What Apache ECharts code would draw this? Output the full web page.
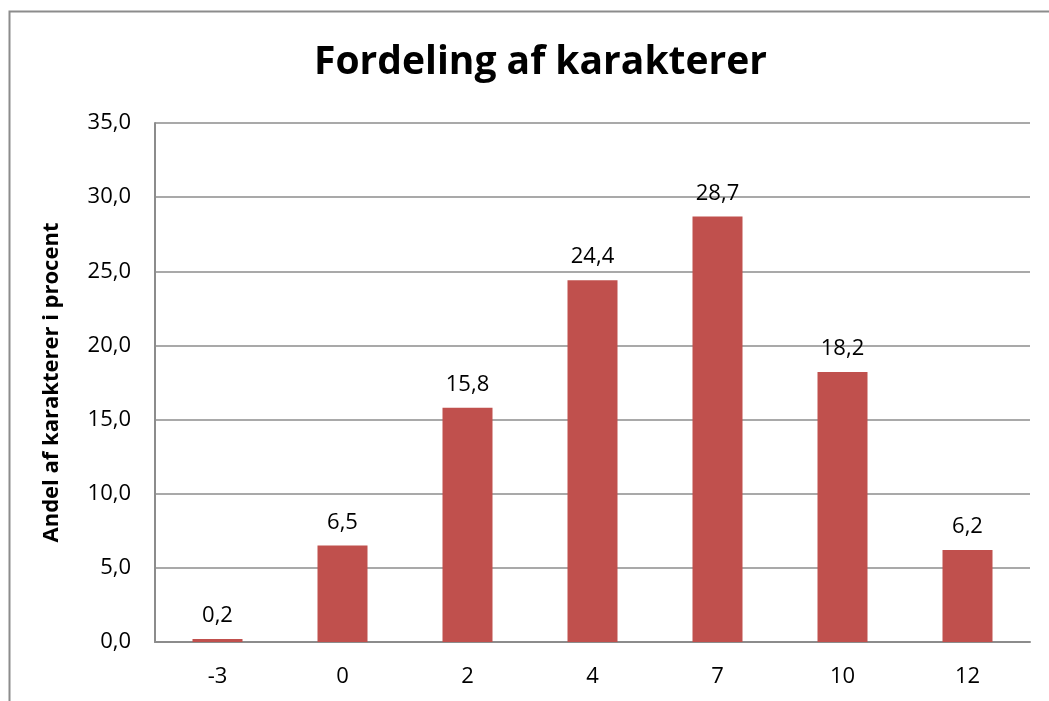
<!DOCTYPE html>
<html>
<head>
<meta charset="utf-8">
<script src="https://cdn.jsdelivr.net/npm/echarts@6/dist/echarts.min.js"></script>
<style>
  html, body { margin: 0; padding: 0; background: #fff; }
  #main { width: 1049px; height: 701px; }
</style>
</head>
<body>
<div id="main"></div>
<script>
// karakterer og andel i procent
const grades = ['-3', '0', '2', '4', '7', '10', '12']
const shares = [0.2, 6.5, 15.8, 24.4, 28.7, 18.2, 6.2]

const font = 'Open Sans, Noto Sans, sans-serif'
const fmt = v => v.toFixed(1).replace('.', ',')

const chart = echarts.init(document.getElementById('main'))
chart.setOption({
  animation: false,
  title: {
    text: 'Fordeling af karakterer',
    left: 309,
    top: 38,
    textStyle: { fontFamily: font, fontSize: 39, fontWeight: 'bold', color: '#000' }
  },
  graphic: [{
    type: 'rect',
    shape: { x: 9.5, y: 11.5, width: 1100, height: 800 },
    style: { fill: 'none', stroke: '#8c8c8c', lineWidth: 2 }
  }],
  grid: { left: 155, right: 19, top: 123, bottom: 59 },
  xAxis: {
    type: 'category',
    data: grades,
    axisLine: { lineStyle: { color: '#8c8c8c', width: 2 } },
    axisTick: { show: false },
    axisLabel: { fontFamily: font, fontSize: 22, color: '#000', margin: 24 }
  },
  yAxis: {
    type: 'value',
    min: 0,
    max: 35,
    interval: 5,
    name: 'Andel af karakterer i procent',
    nameLocation: 'middle',
    nameGap: 92,
    nameTextStyle: { fontFamily: font, fontSize: 22, fontWeight: 'bold', color: '#000' },
    axisLine: { show: true, lineStyle: { color: '#8c8c8c', width: 2 } },
    axisTick: { show: false },
    splitLine: { lineStyle: { color: '#8c8c8c', width: 1.5 } },
    axisLabel: { fontFamily: font, fontSize: 22, color: '#000', margin: 24, formatter: fmt }
  },
  series: [{
    type: 'bar',
    data: shares,
    barWidth: '40%',
    itemStyle: { color: '#C0504D' },
    label: {
      show: true,
      position: 'top',
      distance: 12,
      fontFamily: font,
      fontSize: 22,
      color: '#000',
      formatter: p => fmt(p.value)
    }
  }]
})
</script>
</body>
</html>
